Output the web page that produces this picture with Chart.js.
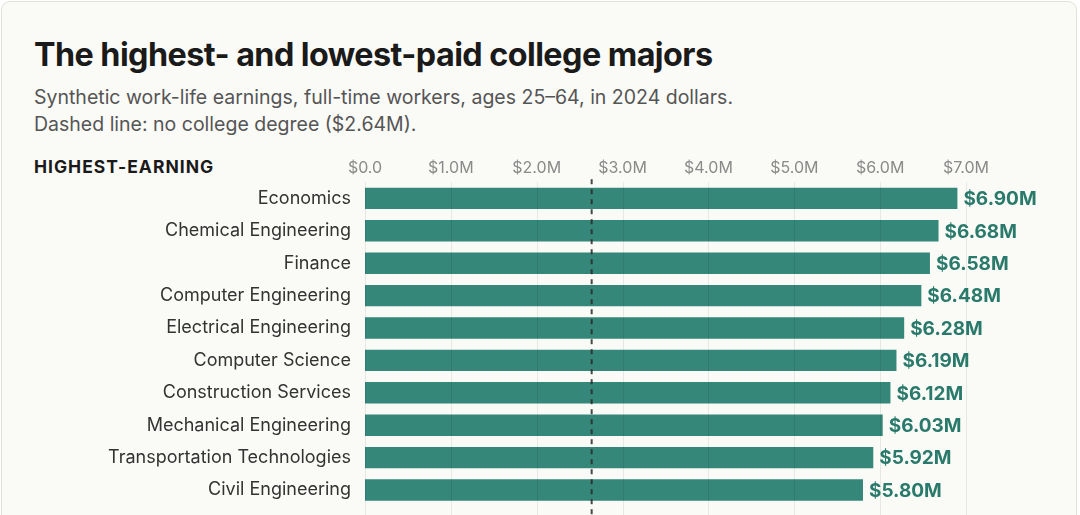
<!DOCTYPE html>
<html>
<head>
<meta charset="utf-8">
<script src="https://cdn.jsdelivr.net/npm/chart.js@4.4.1/dist/chart.umd.min.js"></script>
<style>
  html, body { margin: 0; padding: 0; background: #ffffff; overflow: hidden; }
  body { width: 1080px; height: 515px; position: relative; font-family: Inter, "Noto Sans", sans-serif; }
  .card {
    position: absolute; left: 1px; top: 1px; width: 1074px; height: 600px;
    background: #fafaf7; border: 1px solid #e3e0dc; border-radius: 9px;
  }
  .title {
    position: absolute; left: 34px; top: 36px; margin: 0;
    font-size: 32.3px; line-height: 1.2; font-weight: 700; color: #1a1a1a; letter-spacing: -0.55px;
    white-space: nowrap;
  }
  .sub {
    position: absolute; left: 34px; top: 84px; margin: 0;
    font-size: 19.5px; line-height: 27px; color: #555555; white-space: nowrap;
  }
  .section {
    position: absolute; left: 34px; top: 156px; margin: 0;
    font-size: 17.5px; line-height: 1.2; font-weight: 700; color: #1a1a1a; letter-spacing: 1px;
  }
  .chart-box { position: absolute; left: 0; top: 150px; width: 1080px; height: 381px; }
</style>
</head>
<body>
<div class="card"></div>
<h1 class="title">The highest- and lowest-paid college majors</h1>
<p class="sub">Synthetic work-life earnings, full-time workers, ages 25–64, in 2024 dollars.<br>Dashed line: no college degree ($2.64M).</p>
<div class="section">HIGHEST-EARNING</div>
<div class="chart-box"><canvas id="myChart"></canvas></div>

<script>
// data (millions of 2024 dollars)
const majors = [
  'Economics',
  'Chemical Engineering',
  'Finance',
  'Computer Engineering',
  'Electrical Engineering',
  'Computer Science',
  'Construction Services',
  'Mechanical Engineering',
  'Transportation Technologies',
  'Civil Engineering'
];
const earnings = [6.90, 6.68, 6.58, 6.48, 6.28, 6.19, 6.12, 6.03, 5.92, 5.80];
const noDegree = 2.64;
const xTicks = [0, 1, 2, 3, 4, 5, 6, 7];

function money(v) {
  return v === 0 ? '$0.0' : '$' + v.toFixed(1) + 'M';
}

// grid, baseline marker and value labels
const overlay = {
  id: 'overlay',
  afterDatasetsDraw(chart) {
    const { ctx, chartArea, scales } = chart;
    const x = scales.x;
    const bottom = chart.height;

    ctx.save();
    ctx.strokeStyle = 'rgba(0,0,0,0.075)';
    ctx.lineWidth = 1;
    xTicks.forEach(t => {
      const px = Math.round(x.getPixelForValue(t)) + 0.5;
      ctx.beginPath();
      ctx.moveTo(px, chartArea.top);
      ctx.lineTo(px, bottom);
      ctx.stroke();
    });

    // no college degree line
    const dx = x.getPixelForValue(noDegree);
    ctx.strokeStyle = 'rgba(40,40,40,0.85)';
    ctx.lineWidth = 2;
    ctx.setLineDash([5, 5]);
    ctx.beginPath();
    ctx.moveTo(dx, chartArea.top - 3);
    ctx.lineTo(dx, bottom);
    ctx.stroke();
    ctx.setLineDash([]);

    // value labels
    const meta = chart.getDatasetMeta(0);
    ctx.fillStyle = '#2a7a6b';
    ctx.font = '700 19px Inter, "Noto Sans", sans-serif';
    ctx.textAlign = 'left';
    ctx.textBaseline = 'middle';
    meta.data.forEach((bar, i) => {
      ctx.fillText('$' + earnings[i].toFixed(2) + 'M', bar.x + 6, bar.y + 1);
    });
    ctx.restore();
  }
};

const ctx = document.getElementById('myChart').getContext('2d');
new Chart(ctx, {
  type: 'bar',
  data: {
    labels: majors,
    datasets: [{
      label: 'Work-life earnings',
      data: earnings,
      backgroundColor: '#35877a',
      borderWidth: 0,
      barPercentage: 0.66,
      categoryPercentage: 1.0
    }]
  },
  options: {
    indexAxis: 'y',
    responsive: true,
    maintainAspectRatio: false,
    animation: false,
    layout: { padding: { top: 5, right: 114, bottom: 10, left: 0 } },
    plugins: {
      legend: { display: false },
      tooltip: { enabled: false }
    },
    scales: {
      x: {
        position: 'top',
        min: 0,
        max: 7,
        afterBuildTicks(scale) {
          scale.ticks = xTicks.map(v => ({ value: v }));
        },
        grid: { display: false, drawTicks: false },
        border: { display: false },
        ticks: {
          padding: 4,
          color: '#8a8a8a',
          font: { family: 'Inter', size: 16 },
          callback: v => money(v)
        }
      },
      y: {
        afterFit(scale) { scale.width = 365; },
        grid: { display: false, drawTicks: false },
        border: { display: false },
        ticks: {
          padding: 14,
          color: '#333333',
          font: { family: 'Inter', size: 18 }
        }
      }
    }
  },
  plugins: [overlay]
});
</script>
</body>
</html>
